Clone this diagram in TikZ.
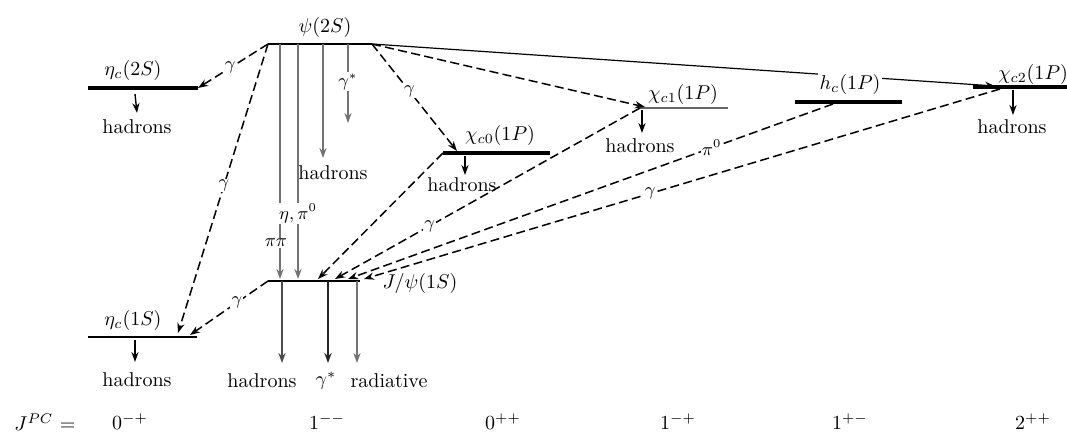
\documentclass[tikz,border=0pt]{standalone}
\usetikzlibrary{arrows.meta}
\begin{document}
\begin{tikzpicture}[x=0.5pt,y=-0.5pt,
  tip/.style={-{Stealth[length=5pt,width=3.6pt]}},
  lvl/.style={line width=1.9pt},
  lvlthin/.style={line width=1pt},
  trans/.style={tip, line width=0.75pt, dash pattern=on 4.5pt off 2.2pt},
  solidtr/.style={tip, line width=0.6pt},
  vert/.style={tip, line width=0.7pt, black!55},
  lab/.style={fill=white, inner sep=0.6pt, font=\small, text=black},
  lvlname/.style={inner sep=1pt},
  txt/.style={inner sep=1pt}]
\useasboundingbox (0,0) rectangle (1067,434);
% level end points
\coordinate (psiL) at (268,44); \coordinate (psiR) at (372,44);
\coordinate (e2L) at (88,88); \coordinate (e2R) at (198,88);
\coordinate (c0L) at (443,153); \coordinate (c0R) at (550,153);
\coordinate (c1L) at (640,108); \coordinate (c1R) at (728,108);
\coordinate (hcL) at (795,102); \coordinate (hcR) at (902,102);
\coordinate (c2L) at (973,87); \coordinate (c2R) at (1067,87);
\coordinate (jL) at (268,281); \coordinate (jR) at (360,281);
\coordinate (e1L) at (88,337); \coordinate (e1R) at (197,337);
% levels
\draw[line width=1.2pt] (psiL) -- (psiR);
\draw[lvl] (e2L) -- (e2R);
\draw[lvl] (c0L) -- (c0R);
\draw[line width=0.6pt, black!60] (c1L) -- (c1R);
\draw[line width=1.6pt] (hcL) -- (hcR);
\draw[lvl] (c2L) -- (c2R);
\draw[lvlthin] (jL) -- (jR);
\draw[line width=1.2pt] (e1L) -- (e1R);
% transition end points
\coordinate (e1a) at (178,333);
\coordinate (c0a) at (457,151);
\coordinate (c1a) at (645,107);
\coordinate (c2a) at (995,86);
\coordinate (c2s) at (1000,89);
\coordinate (hcs) at (833,104);
\coordinate (jv1t) at (280,44); \coordinate (jv1) at (280,279);
\coordinate (jv2t) at (298,44); \coordinate (jv2) at (298,279);
\coordinate (ja) at (318,279); \coordinate (jb) at (335,279);
\coordinate (jc) at (348,279); \coordinate (jd) at (364,279);
\coordinate (e1b) at (190,335);
% transitions
\draw[solidtr] (psiR) -- (c2a);
\draw[trans] (psiL) -- node[lab,pos=0.54]{$\gamma$} (e2R);
\draw[trans] (psiL) -- node[lab,pos=0.49]{$\gamma$} (e1a);
\draw[trans] (psiR) -- node[lab,pos=0.44]{$\gamma$} (c0a);
\draw[trans] (psiR) -- (c1a);
\draw[vert] (jv1t) -- node[lab,pos=0.845,xshift=-2pt]{$\pi\pi$} (jv1);
\draw[vert] (jv2t) -- node[lab,pos=0.72]{$\eta,\pi^0$} (jv2);
\draw[trans] (c0L) -- (ja);
\draw[trans] (c1L) -- node[lab,pos=0.69]{$\gamma$} (jb);
\draw[trans] (hcs) -- node[lab,pos=0.25]{$\pi^0$} (jc);
\draw[trans] (c2s) -- node[lab,pos=0.55]{$\gamma$} (jd);
\draw[trans] (jL) -- node[lab,pos=0.4]{$\gamma$} (e1b);
% decays from psi(2S)
\coordinate (ph1) at (323,44); \coordinate (ph2) at (323,158);
\coordinate (pg1) at (348,44); \coordinate (pg2) at (348,123);
\draw[vert] (ph1) -- (ph2);
\draw[vert] (pg1) -- node[lab,pos=0.48]{$\gamma^*$} (pg2);
\node[txt] (phad) at (333,173) {hadrons};
% hadron decays of other levels
\coordinate (e2h1) at (135,94); \coordinate (e2h2) at (137,113);
\draw[tip,line width=0.7pt] (e2h1) -- (e2h2);
\node[txt] (e2had) at (137,127) {hadrons};
\coordinate (c0h1) at (465,156); \coordinate (c0h2) at (465,175);
\draw[tip,line width=0.7pt] (c0h1) -- (c0h2);
\node[txt] (c0had) at (462,185) {hadrons};
\coordinate (c1h1) at (642,110); \coordinate (c1h2) at (642,133);
\draw[tip,line width=0.7pt] (c1h1) -- (c1h2);
\node[txt] (c1had) at (640,146) {hadrons};
\coordinate (c2h1) at (1013,90); \coordinate (c2h2) at (1013,115);
\draw[tip,line width=0.7pt] (c2h1) -- (c2h2);
\node[txt] (c2had) at (1012,127) {hadrons};
\coordinate (e1h1) at (135,340); \coordinate (e1h2) at (135,362);
\draw[tip,line width=0.7pt] (e1h1) -- (e1h2);
\node[txt] (e1had) at (137,380) {hadrons};
% J/psi decays
\coordinate (jd1a) at (282,281); \coordinate (jd1b) at (282,363);
\coordinate (jd2a) at (328,281); \coordinate (jd2b) at (328,363);
\coordinate (jd3a) at (357,281); \coordinate (jd3b) at (357,363);
\draw[tip,line width=0.8pt,black!70] (jd1a) -- (jd1b);
\draw[tip,line width=1.1pt,black!85] (jd2a) -- (jd2b);
\draw[tip,line width=0.6pt,black!55] (jd3a) -- (jd3b);
\node[txt] (jhad) at (262,381) {hadrons};
\node[txt] (jgam) at (326,381) {$\gamma^*$};
\node[txt] (jrad) at (389,381) {radiative};
% level names
\node[lvlname] (npsi) at (325,27) {$\psi(2S)$};
\node[lvlname] (ne2) at (133,70) {$\eta_c(2S)$};
\node[lvlname] (nc0) at (500,135) {$\chi_{c0}(1P)$};
\node[lvlname] (nc1) at (683,94) {$\chi_{c1}(1P)$};
\node[lvlname,fill=white] (nhc) at (850,84) {$h_c(1P)$};
\node[lvlname] (nc2) at (1033,74) {$\chi_{c2}(1P)$};
\node[lvlname] (nj) at (420,283) {$J/\psi(1S)$};
\node[lvlname] (ne1) at (133,320) {$\eta_c(1S)$};
% J^PC row
\node[txt] (jpc) at (45,422) {$J^{PC}$ =};
\node[txt] (q1) at (130,422) {$0^{-+}$};
\node[txt] (q2) at (327,422) {$1^{--}$};
\node[txt] (q3) at (503,422) {$0^{++}$};
\node[txt] (q4) at (678,422) {$1^{-+}$};
\node[txt] (q5) at (850,422) {$1^{+-}$};
\node[txt] (q6) at (1033,422) {$2^{++}$};
\end{tikzpicture}
\end{document}
